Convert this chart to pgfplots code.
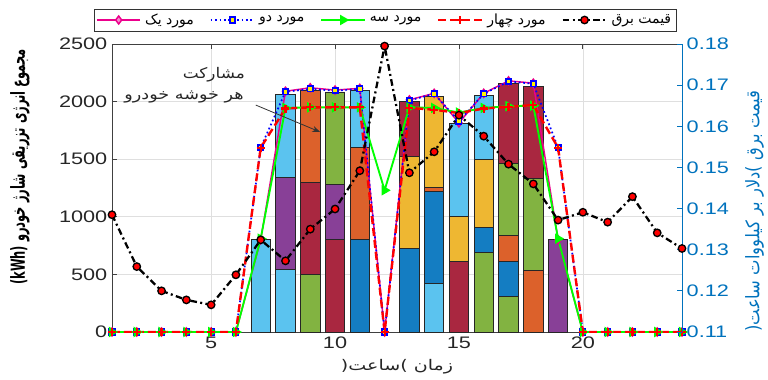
\documentclass[border=0pt]{standalone}
\usepackage{graphicx}
\usepackage{pgfplots}
\pgfplotsset{compat=1.18}
\usepackage{fontspec}
\setmainfont{Liberation Sans}
\newfontfamily\fa[Script=Arabic]{DejaVu Sans}
\TeXXeTstate=1
\newcommand{\R}[1]{{\fa\beginR #1\endR}}
\usetikzlibrary{arrows.meta}
\definecolor{cB}{rgb}{0,0.447,0.741}
\definecolor{cO}{rgb}{0.85,0.325,0.098}
\definecolor{cY}{rgb}{0.929,0.694,0.125}
\definecolor{cP}{rgb}{0.494,0.184,0.556}
\definecolor{cG}{rgb}{0.466,0.674,0.188}
\definecolor{cL}{rgb}{0.301,0.745,0.933}
\definecolor{cR}{rgb}{0.635,0.078,0.184}
\definecolor{axblue}{rgb}{0,0.447,0.741}
\newcommand{\seg}[3]{\addplot[ybar, bar width=0.78, bar shift=0pt, fill=#1!92!white, draw=black!85, line width=0.6pt, forget plot] coordinates {(#2,#3)};}
\newcommand{\stretchnum}{\scalebox{1.3}[1]{\pgfmathprintnumber{\tick}}}
\pgfplotsset{
  m1/.style={magenta, line width=1.1pt, mark=diamond*, mark size=3pt, mark options={solid, fill=magenta!45, draw=magenta}},
  m2/.style={blue, line width=1.3pt, dotted, mark=square*, mark size=2pt, mark options={solid, fill=yellow, draw=blue}},
  m3/.style={green, line width=1.4pt, mark=triangle*, mark size=3.2pt, mark options={solid, rotate=-90, fill=green, draw=green}},
  m4/.style={red, line width=1.8pt, dash pattern=on 6pt off 3pt, mark=+, mark size=3pt, mark options={solid, line width=1.6pt}},
  pr/.style={black, line width=1.7pt, dash pattern=on 5pt off 2.5pt on 1.5pt off 2.5pt, mark=*, mark size=2.8pt, mark options={solid, fill=red, draw=black, line width=1pt}},
}
\begin{document}
\begin{tikzpicture}
\path[use as bounding box] (0pt,0pt) rectangle (576pt,284.25pt);
\begin{axis}[
  at={(84pt,35.25pt)}, anchor=south west, scale only axis,
  width=427.5pt, height=216pt,
  xmin=1, xmax=24, ymin=0, ymax=2500,
  xtick={5,10,15,20}, ytick={0,500,1000,1500,2000,2500},
  ytick pos=left,
  scaled ticks=false,
  /pgf/number format/set thousands separator={},
  /pgf/number format/assume math mode=true,
  xticklabel={\stretchnum}, yticklabel={\stretchnum},
  tick align=inside,
  major tick length=4pt,
  grid=major,
  major grid style={gray!25, line width=0.5pt},
  axis line style={black!75, line width=0.6pt},
  tick style={black!75, line width=0.6pt},
  tick label style={font=\fontsize{12.5}{14}\selectfont, text=black!85},
]
% stacked bars (top cumulative first)
\seg{cL}{7}{807}
\seg{cL}{8}{2066}\seg{cP}{8}{1343}\seg{cL}{8}{544}
\seg{cO}{9}{2101}\seg{cR}{9}{1299}\seg{cG}{9}{501}
\seg{cG}{10}{2078}\seg{cP}{10}{1282}\seg{cR}{10}{804}
\seg{cL}{11}{2095}\seg{cO}{11}{1603}\seg{cB}{11}{804}
\seg{cR}{13}{2005}\seg{cY}{13}{1528}\seg{cB}{13}{726}
\seg{cY}{14}{2049}\seg{cO}{14}{1253}\seg{cB}{14}{1218}\seg{cL}{14}{422}
\seg{cL}{15}{1810}\seg{cY}{15}{1007}\seg{cR}{15}{616}
\seg{cL}{16}{2052}\seg{cY}{16}{1502}\seg{cB}{16}{909}\seg{cG}{16}{692}
\seg{cR}{17}{2159}\seg{cG}{17}{1464}\seg{cO}{17}{836}\seg{cB}{17}{616}\seg{cG}{17}{307}
\seg{cR}{18}{2135}\seg{cG}{18}{1334}\seg{cO}{18}{538}
\seg{cP}{19}{804}
% scenario lines
\addplot[m1] coordinates {(1,0)(2,0)(3,0)(4,0)(5,0)(6,0)(7,800)(8,2090)(9,2120)(10,2100)(11,2115)(12,0)(13,2015)(14,2072)(15,1815)(16,2072)(17,2180)(18,2160)(19,800)(20,0)(21,0)(22,0)(23,0)(24,0)};
\addplot[m2] coordinates {(1,0)(2,0)(3,0)(4,0)(5,0)(6,0)(7,1600)(8,2085)(9,2110)(10,2095)(11,2110)(12,0)(13,2010)(14,2068)(15,1830)(16,2068)(17,2175)(18,2155)(19,1600)(20,0)(21,0)(22,0)(23,0)(24,0)};
\addplot[m3] coordinates {(1,0)(2,0)(3,0)(4,0)(5,0)(6,0)(7,810)(8,1945)(9,1950)(10,1950)(11,1950)(12,1230)(13,1950)(14,1945)(15,1905)(16,1945)(17,1960)(18,1965)(19,810)(20,0)(21,0)(22,0)(23,0)(24,0)};
\addplot[m4] coordinates {(1,0)(2,0)(3,0)(4,0)(5,0)(6,0)(7,1600)(8,1940)(9,1950)(10,1950)(11,1950)(12,0)(13,1945)(14,1930)(15,1900)(16,1940)(17,1955)(18,1970)(19,1600)(20,0)(21,0)(22,0)(23,0)(24,0)};
% annotation
\node[anchor=east, font=\fa\fontsize{11}{13}\selectfont, text=black!85] at (axis cs:6.55,2230) {\scalebox{1.15}[1]{\beginR مشارکت\endR}};
\node[anchor=east, font=\fa\fontsize{11}{13}\selectfont, text=black!85] at (axis cs:6.5,2040) {\scalebox{1.2}[1]{\beginR هر خوشه خودرو\endR}};
\draw[-{Stealth[length=6pt]}, black!80, line width=0.6pt] (axis cs:6.8,1970) -- (axis cs:9.4,1736);
\end{axis}
\begin{axis}[
  at={(84pt,35.25pt)}, anchor=south west, scale only axis,
  width=427.5pt, height=216pt,
  xmin=1, xmax=24, ymin=0.11, ymax=0.18,
  axis x line=none, axis y line*=right,
  ytick={0.11,0.12,0.13,0.14,0.15,0.16,0.17,0.18},
  /pgf/number format/fixed, /pgf/number format/fixed zerofill, /pgf/number format/precision=2,
  /pgf/number format/assume math mode=true,
  yticklabel={\stretchnum},
  tick align=inside,
  major tick length=4pt,
  y axis line style={axblue, line width=0.7pt, -},
  ytick style={axblue, line width=0.6pt},
  tick label style={font=\fontsize{12.5}{14}\selectfont, text=axblue},
  legend columns=5,
  legend style={at={(0.5,1)}, anchor=center, xshift=-9pt, yshift=18pt, draw=black!80, line width=0.5pt, font=\fontsize{10.5}{12}\selectfont, column sep=2pt, inner sep=1.5pt, /tikz/every odd column/.append style={column sep=1pt}, /tikz/every even column/.append style={column sep=10pt}},
  legend image code/.code={\draw[mark repeat=2,mark phase=2] plot coordinates {(0cm,0cm) (0.575cm,0cm) (1.15cm,0cm)};},
]
\addlegendimage{m1}\addlegendentry{\R{مورد یک}}
\addlegendimage{m2}\addlegendentry{\R{مورد دو}}
\addlegendimage{m3}\addlegendentry{\R{مورد سه}}
\addlegendimage{m4}\addlegendentry{\R{مورد چهار}}
\addplot[pr] coordinates {(1,0.1385)(2,0.1259)(3,0.1200)(4,0.1178)(5,0.1166)(6,0.1239)(7,0.1324)(8,0.1273)(9,0.1350)(10,0.1399)(11,0.1492)(12,0.1795)(13,0.1487)(14,0.1538)(15,0.1627)(16,0.1576)(17,0.1508)(18,0.1460)(19,0.1372)(20,0.1391)(21,0.1367)(22,0.1429)(23,0.1341)(24,0.1303)};
\addlegendentry{\R{قیمت برق}}
\end{axis}
\node[rotate=90, font=\fa\bfseries\fontsize{10}{12}\selectfont] at (15pt,159pt) {\scalebox{0.86}[1.45]{(kWh) \beginR مجموع انرژی تزریقی شارژ خودرو\endR}};
\node[rotate=90, font=\fa\fontsize{10}{12}\selectfont, text=axblue] at (566pt,126pt) {\scalebox{1.23}[1.4]{(\beginR دلار بر کیلووات ساعت\endR) \beginR قیمت برق\endR}};
\node[font=\fa\fontsize{11}{14}\selectfont, text=black!85] at (297.75pt,9pt) {\scalebox{1.3}[1]{(\beginR ساعت\endR) \beginR زمان\endR}};
\end{tikzpicture}
\end{document}
